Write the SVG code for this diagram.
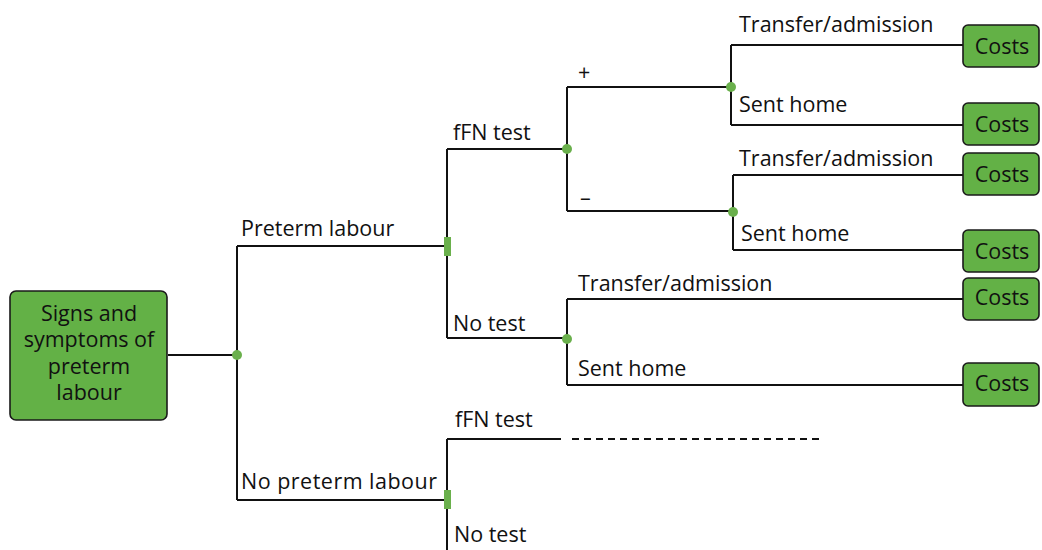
<svg xmlns="http://www.w3.org/2000/svg" width="1042" height="550" viewBox="0 0 1042 550">
<style>
.ln{fill:none;stroke:#111;stroke-width:2}
.dash{fill:none;stroke:#111;stroke-width:2;stroke-dasharray:7,5}
.box{fill:#63b146;stroke:#1a1a1a;stroke-width:1.6}
.dot{fill:#6ab04c}
.t{font-family:"Open Sans","Noto Sans",sans-serif;font-size:21.5px;fill:#111}
.c{text-anchor:middle}
</style>
<rect width="1042" height="550" fill="#fff"/>
<g id="connectors">
<path class="ln" d="M168,355H237M237,246V500M237,246H447M237,500H447"/>
<path class="ln" d="M447,149V338M447,149H567M447,338H567"/>
<path class="ln" d="M567,87V211M567,87H731M567,211H733"/>
<path class="ln" d="M731,45V125M731,45H964M731,125H964"/>
<path class="ln" d="M733,175V250M733,175H964M733,250H964"/>
<path class="ln" d="M567,299V385M567,299H964M567,385H964"/>
<path class="ln" d="M447,439V550M447,439H561"/>
<path class="dash" d="M572,439H822"/>
<text class="t" x="241" y="236">Preterm labour</text>
<text class="t" x="241" y="489" textLength="196">No preterm labour</text>
<text class="t" x="453" y="140">fFN test</text>
<text class="t" x="453" y="331">No test</text>
<text class="t" x="578" y="80">+</text>
<text class="t" x="580" y="205">–</text>
<text class="t" x="739" y="32">Transfer/admission</text>
<text class="t" x="739" y="112">Sent home</text>
<text class="t" x="739" y="166">Transfer/admission</text>
<text class="t" x="741" y="241">Sent home</text>
<text class="t" x="578" y="291">Transfer/admission</text>
<text class="t" x="578" y="376">Sent home</text>
<text class="t" x="455" y="427">fFN test</text>
<text class="t" x="454" y="542">No test</text>
</g>
<g id="root">
<rect class="box" x="10" y="291" width="157" height="129" rx="6"/>
<text class="t c" x="89" y="321">Signs and</text>
<text class="t c" x="89" y="347">symptoms of</text>
<text class="t c" x="89" y="374">preterm</text>
<text class="t c" x="89" y="400">labour</text>
</g>
<g id="chance-root"><circle class="dot" cx="237" cy="355" r="5"/></g>
<g id="decision-preterm"><rect class="dot" x="444" y="237" width="7" height="19"/></g>
<g id="decision-nopreterm"><rect class="dot" x="444" y="490" width="7" height="19"/></g>
<g id="chance-fFN"><circle class="dot" cx="567" cy="149" r="5"/></g>
<g id="chance-pos"><circle class="dot" cx="731" cy="87" r="5"/></g>
<g id="chance-neg"><circle class="dot" cx="733" cy="212" r="5"/></g>
<g id="chance-notest"><circle class="dot" cx="567" cy="339" r="5"/></g>
<g id="cost1"><rect class="box" x="963" y="25" width="76" height="42" rx="5"/><text class="t c" x="1002" y="54">Costs</text></g>
<g id="cost2"><rect class="box" x="963" y="103" width="76" height="42" rx="5"/><text class="t c" x="1002" y="132">Costs</text></g>
<g id="cost3"><rect class="box" x="963" y="153" width="76" height="42" rx="5"/><text class="t c" x="1002" y="182">Costs</text></g>
<g id="cost4"><rect class="box" x="963" y="230" width="76" height="42" rx="5"/><text class="t c" x="1002" y="259">Costs</text></g>
<g id="cost5"><rect class="box" x="963" y="278" width="76" height="42" rx="5"/><text class="t c" x="1002" y="305">Costs</text></g>
<g id="cost6"><rect class="box" x="963" y="363" width="76" height="43" rx="5"/><text class="t c" x="1002" y="391">Costs</text></g>
</svg>
